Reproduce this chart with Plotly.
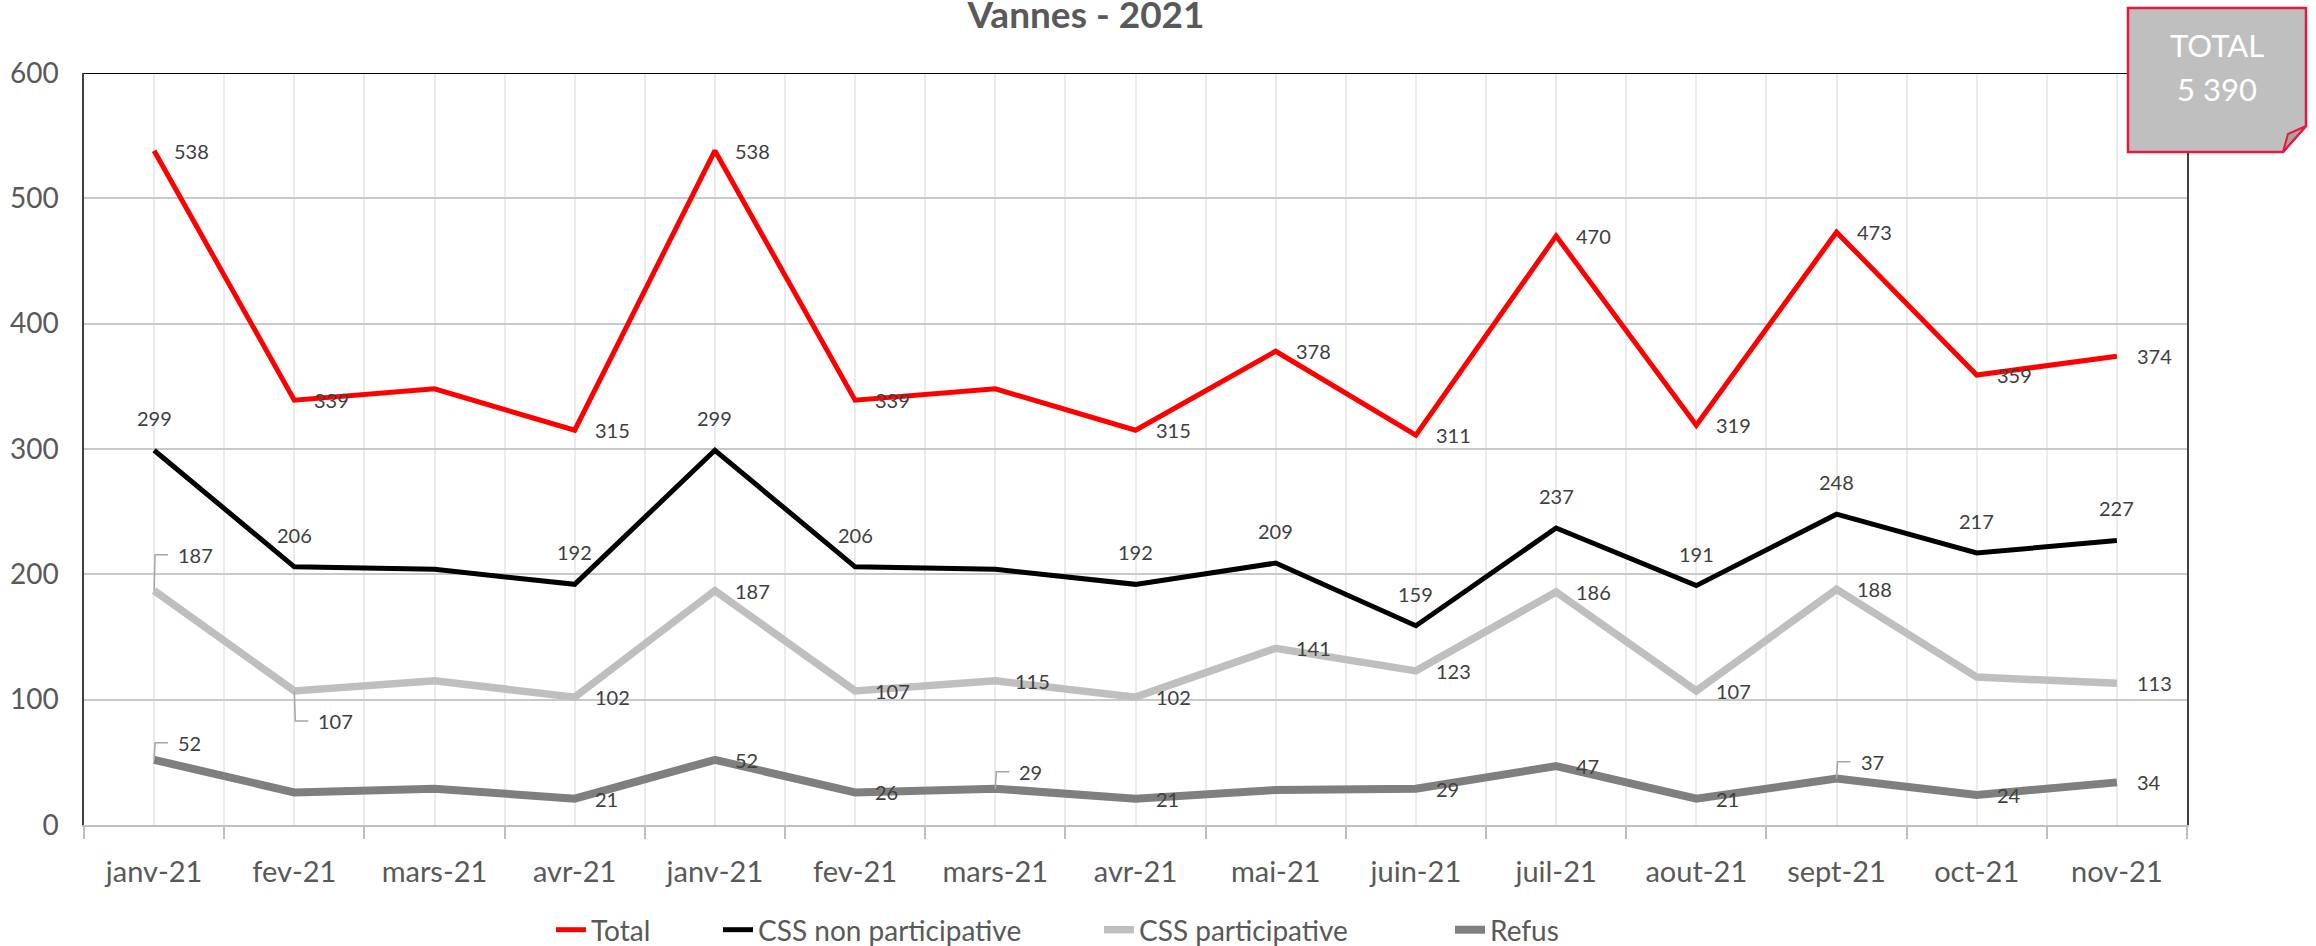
import plotly.graph_objects as go

months = ["janv-21", "fev-21", "mars-21", "avr-21", "janv-21", "fev-21", "mars-21", "avr-21",
          "mai-21", "juin-21", "juil-21", "aout-21", "sept-21", "oct-21", "nov-21"]
total = [538, 339, 348, 315, 538, 339, 348, 315, 378, 311, 470, 319, 473, 359, 374]
css_non_part = [299, 206, 204, 192, 299, 206, 204, 192, 209, 159, 237, 191, 248, 217, 227]
css_part = [187, 107, 115, 102, 187, 107, 115, 102, 141, 123, 186, 107, 188, 118, 113]
refus = [52, 26, 29, 21, 52, 26, 29, 21, 28, 29, 47, 21, 37, 24, 34]
grand_total = "5 390"

# where each data label goes: r = right, a = above, u / d = with leader up / down, None = hidden
lab_total = ["r", "r", None, "r", "r", "r", None, "r", "r", "r", "r", "r", "r", "r", "r"]
lab_non = ["a", "a", None, "a", "a", "a", None, "a", "a", "a", "a", "a", "a", "a", "a"]
lab_part = ["u", "d", None, "r", "r", "r", "r", "r", "r", "r", "r", "r", "r", None, "r"]
lab_refus = ["u", None, None, "r", "r", "r", "u", "r", None, "r", "r", "r", "u", "r", "r"]

FONT = "Lato, 'Open Sans', sans-serif"
TXT = "#595959"
W, H = 2316, 946
L, R, T, B = 84, 2187, 73, 825   # plot area in pixels


def px(x):
    return (x - L) / (R - L)


def py(y):
    return (B - y) / (B - T)


series = [
    ("Total", total, lab_total, "#FF0000", 5, 0),
    ("CSS non participative", css_non_part, lab_non, "#000000", 5, 0),
    ("CSS participative", css_part, lab_part, "#BFBFBF", 7.5, 36),
    ("Refus", refus, lab_refus, "#7F7F7F", 8, 17),
]
# x where each legend entry's text starts
legend_text_x = [595, 762, 1143, 1494]

xs = list(range(len(months)))
fig = go.Figure()
annotations = []
shapes = []
legends = {}

for k, (name, vals, labs, color, width, lead) in enumerate(series):
    lg = "legend" if k == 0 else f"legend{k + 1}"
    legends[lg] = dict(orientation="h", x=px(legend_text_x[k] - 44), xanchor="left",
                       y=py(930), yanchor="middle", bgcolor="rgba(0,0,0,0)",
                       font=dict(family=FONT, size=28, color=TXT))
    fig.add_trace(go.Scatter(
        x=xs, y=vals, mode="lines", name=name, legend=lg,
        line=dict(color=color, width=width),
    ))
    for i, (v, pos) in enumerate(zip(vals, labs)):
        if pos is None:
            continue
        a = dict(x=i, y=v, text=str(v), showarrow=False,
                 font=dict(family=FONT, size=20, color="#404040"))
        if pos == "r":
            a.update(xanchor="left", yanchor="middle", xshift=18)
        elif pos == "a":
            a.update(xanchor="center", yanchor="middle", yshift=32)
        else:
            h = lead if pos == "u" else -30
            a.update(xanchor="left", yanchor="middle", xshift=22, yshift=h)
            shapes.append(dict(
                type="path", xref="x", yref="y",
                xsizemode="pixel", ysizemode="pixel", xanchor=i, yanchor=v,
                path=f"M 0 0 L 1 {h} L 14 {h}",
                line=dict(color="#A6A6A6", width=1.5),
            ))
        annotations.append(a)

# top border of the plot area
shapes.append(dict(type="line", xref="paper", yref="y", x0=0, x1=1, y0=600, y1=600,
                   line=dict(color="#000000", width=2)))

# TOTAL sticky note with folded corner
bx0, bx1, by0, by1 = 2128, 2306, 8, 152
fx, fy = 2283, 126
shapes.append(dict(
    type="path", xref="paper", yref="paper", layer="above",
    path=(f"M {px(bx0)} {py(by0)} L {px(bx1)} {py(by0)} L {px(bx1)} {py(fy)} "
          f"L {px(fx)} {py(by1)} L {px(bx0)} {py(by1)} Z"),
    fillcolor="#BFBFBF", line=dict(color="#E8173D", width=2.5),
))
shapes.append(dict(
    type="path", xref="paper", yref="paper", layer="above",
    path=f"M {px(fx)} {py(by1)} L {px(2288)} {py(134)} L {px(bx1)} {py(fy)} Z",
    fillcolor="#A6A6A6", line=dict(color="#E8173D", width=2),
))
for txt, ty in [("TOTAL", 45), (grand_total, 89)]:
    annotations.append(dict(x=px(2217), y=py(ty), xref="paper", yref="paper", text=txt,
                            xanchor="center", yanchor="middle", showarrow=False,
                            font=dict(family=FONT, size=31, color="#FFFFFF")))

fig.update_layout(
    width=W, height=H,
    margin=dict(l=L, r=W - R, t=T, b=H - B, autoexpand=False),
    paper_bgcolor="white", plot_bgcolor="white",
    title=dict(text="<b>Vannes - 2021</b>", x=1086 / W, xanchor="center",
               y=1 - 15 / H, yanchor="middle", yref="container",
               font=dict(family=FONT, size=37, color=TXT)),
    annotations=annotations,
    shapes=shapes,
    showlegend=True,
    **legends,
)

fig.update_xaxes(
    range=[-0.5, len(months) - 0.5],
    tickvals=xs, ticktext=months, ticks="",
    tickfont=dict(family=FONT, size=29, color=TXT),
    ticklabelstandoff=20,
    showgrid=True, gridcolor="#EBEBEB", gridwidth=1.5,
    showline=True, linecolor="#BFBFBF", linewidth=2,
    zeroline=False,
    minor=dict(tickvals=[i - 0.5 for i in range(len(months) + 1)], ticks="outside",
               ticklen=12, tickwidth=2, tickcolor="#BFBFBF",
               showgrid=True, gridcolor="#EBEBEB", gridwidth=1.5),
)
fig.update_yaxes(
    range=[0, 600], dtick=100,
    tickfont=dict(family=FONT, size=28, color=TXT),
    ticklabelstandoff=18,
    showgrid=True, gridcolor="#C9C9C9", gridwidth=2,
    showline=True, linecolor="#404040", linewidth=1.5, mirror=True,
    zeroline=False,
)

# drop the default page margin so the figure sits at the window's corner
fig.write_html("out.html", config={"displayModeBar": False},
               post_script="document.body.style.margin = '0';")
